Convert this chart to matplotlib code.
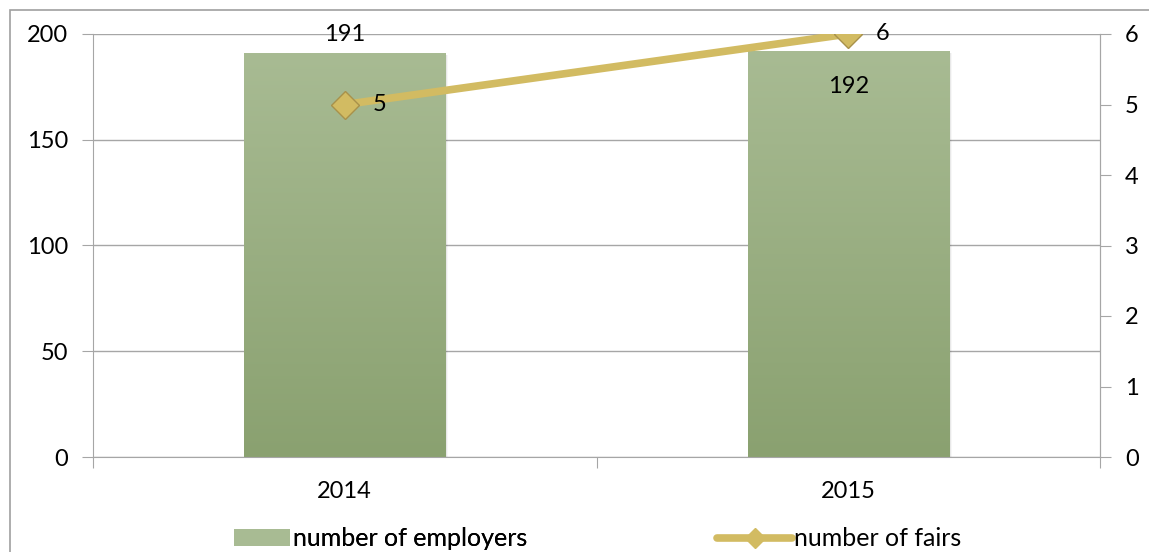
import matplotlib.pyplot as plt
import numpy as np
from matplotlib.patches import Rectangle
from matplotlib.lines import Line2D

plt.rcParams['font.family'] = ['Lato', 'DejaVu Sans']

years = ["2014", "2015"]
employers = [191, 192]
fairs = [5, 6]

bar_top = np.array([0xa8, 0xbb, 0x93]) / 255
bar_bot = np.array([0x8a, 0xa1, 0x70]) / 255
line_col = "#d2bb62"
mark_edge = "#a8914a"
grid_col = "#a6a6a6"
fs = 17

fig = plt.figure(figsize=(11.49, 5.52), dpi=100)
# chart frame
fig.patches.append(Rectangle((10 / 1149, -0.1), 1.2, (552 - 10) / 552 + 0.1,
                             transform=fig.transFigure, fill=False,
                             edgecolor="#a0a0a0", lw=1.2))

ax = fig.add_axes([93 / 1149, (552 - 457) / 552, (1100 - 93) / 1149, (457 - 34) / 552])
x = np.arange(len(years))
ax.set_yticks(range(0, 201, 50))
ax.yaxis.grid(True, color=grid_col, lw=1)
ax.set_axisbelow(True)
ax.spines["top"].set_visible(False)
for s in ["left", "bottom", "right"]:
    ax.spines[s].set_color(grid_col)
ax.tick_params(axis="y", colors=grid_col, labelcolor="black", labelsize=fs, length=8, pad=10)
ax.set_xticks([-0.5, 0.5, 1.5])
ax.set_xticks(x, minor=True)
ax.set_xticklabels([])
ax.set_xticklabels(years, minor=True)
ax.tick_params(axis="x", which="major", colors=grid_col, length=8)
ax.tick_params(axis="x", which="minor", length=0, labelsize=fs, pad=17)

# bars with vertical gradient and soft shadow
grad = np.linspace(0, 1, 256)[:, None, None]
img = bar_bot + (bar_top - bar_bot) * grad
width = 0.4
bars = ax.bar(x, employers, width=width, color="none", zorder=2)
for b, v in zip(bars, employers):
    x0 = b.get_x()
    for k, a in [(0.002, 0.10), (0.004, 0.06), (0.006, 0.03)]:
        ax.add_patch(Rectangle((x0 + k, 0), width, v - 1, facecolor="#000000",
                               alpha=a, edgecolor="none", zorder=1.9))
    im = ax.imshow(img, extent=(x0, x0 + width, 0, v), origin="lower",
                   aspect="auto", zorder=2)
    im.set_clip_path(b)
ax.set_xlim(-0.5, 1.5)
ax.set_ylim(0, 200)

ax.text(x[0], employers[0] + 4, str(employers[0]), ha="center", va="bottom", fontsize=fs)
ax.text(x[1], employers[1] - 12, str(employers[1]), ha="center", va="top", fontsize=fs)

ax2 = ax.twinx()
ax2.set_ylim(0, 6)
ax2.set_yticks(range(0, 7))
for s in ["top", "left", "bottom"]:
    ax2.spines[s].set_visible(False)
ax2.spines["right"].set_color(grid_col)
ax2.tick_params(axis="y", colors=grid_col, labelcolor="black", labelsize=fs, length=8, pad=10)
ax2.plot(x, fairs, color=line_col, lw=5.5, marker="D", markersize=14,
         markerfacecolor=line_col, markeredgecolor=mark_edge, markeredgewidth=1,
         solid_capstyle="round", zorder=3)
for xi, v in zip(x, fairs):
    ax2.annotate(str(v), (xi, v), xytext=(20, 0), textcoords="offset points",
                 ha="left", va="center", fontsize=fs)

bar_handle = Rectangle((0, 0), 1, 1, facecolor=bar_top, edgecolor="none")
line_handle = Line2D([], [], color=line_col, lw=5.5, marker="D", markersize=10,
                     markerfacecolor=line_col, markeredgecolor=line_col,
                     solid_capstyle="round")
leg1 = fig.legend([bar_handle], ["number of employers"], loc="center left",
                  bbox_to_anchor=(212 / 1149, 0.024), frameon=False, fontsize=18,
                  handlelength=2.2, handleheight=0.7, handletextpad=0.15)
fig.legend([line_handle], ["number of fairs"], loc="center left",
           bbox_to_anchor=(695 / 1149, 0.024), frameon=False, fontsize=18,
           handlelength=3.0, handletextpad=0.05)
fig.add_artist(leg1)

fig.savefig("out.png", dpi=100)
